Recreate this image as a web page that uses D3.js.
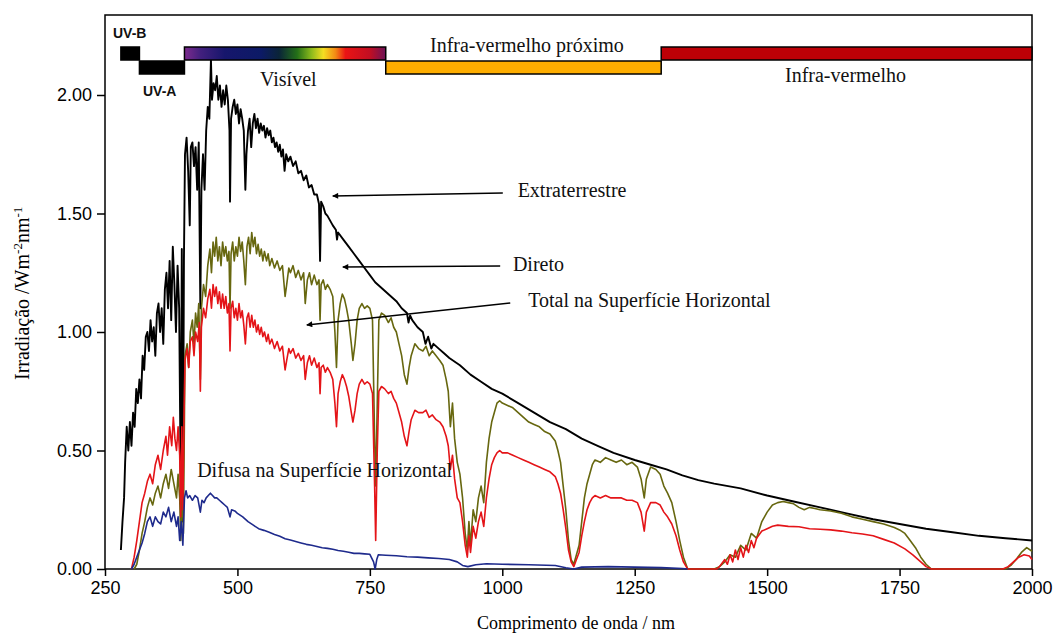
<!DOCTYPE html>
<html>
<head>
<meta charset="utf-8">
<script src="https://cdn.jsdelivr.net/npm/d3@7"></script>
<style>
	body { margin: 0; background: #fff; }
	svg { display: block; }
</style>
</head>
<body>
<div id="món"></div>
<script>
// valors llegits de la figura: [comprimento de onda nm, irradiação]
const extraterrestre = [[280,0.08],[283,0.2],[286,0.3],[288,0.45],[291,0.6],[294,0.5],[297,0.62],[300,0.52],[303,0.66],[306,0.6],[309,0.76],[312,0.7],[315,0.8],[318,0.72],[321,0.9],[324,0.84],[327,0.98],[330,1.0],[333,0.92],[336,1.05],[339,0.96],[342,1.02],[345,0.9],[348,1.08],[351,1.12],[354,1.0],[357,1.1],[360,0.95],[363,1.18],[366,1.25],[369,1.1],[372,1.3],[375,1.05],[378,1.36],[381,1.2],[384,1.0],[387,1.28],[390,1.1],[393,0.35],[395,1.35],[397,0.2],[399,1.3],[401,1.75],[404,1.82],[407,1.68],[410,1.45],[412,1.78],[415,1.8],[418,1.7],[421,1.78],[424,1.6],[427,1.8],[430,1.1],[432,1.6],[435,1.75],[438,1.6],[441,1.85],[444,1.95],[447,1.9],[450,2.15],[452,1.98],[455,2.05],[458,2.02],[461,2.08],[464,1.98],[467,2.04],[470,1.95],[473,2.02],[476,1.96],[479,2.04],[482,1.98],[485,1.85],[486,1.55],[488,1.9],[491,1.95],[494,1.98],[497,1.92],[500,1.96],[503,1.88],[506,1.94],[509,1.9],[512,1.85],[515,1.6],[517,1.75],[520,1.85],[523,1.9],[526,1.78],[529,1.88],[532,1.92],[535,1.86],[538,1.9],[541,1.84],[544,1.88],[547,1.85],[550,1.87],[553,1.82],[556,1.86],[559,1.83],[562,1.85],[565,1.8],[568,1.82],[571,1.78],[574,1.8],[577,1.76],[580,1.79],[583,1.74],[586,1.77],[589,1.68],[592,1.75],[596,1.72],[600,1.74],[605,1.7],[610,1.72],[615,1.67],[620,1.68],[625,1.64],[630,1.66],[635,1.61],[640,1.62],[645,1.58],[650,1.58],[654,1.54],[656,1.3],[658,1.55],[662,1.53],[666,1.5],[670,1.49],[675,1.47],[680,1.45],[686,1.43],[688,1.39],[690,1.42],[700,1.39],[710,1.36],[720,1.33],[730,1.3],[740,1.27],[750,1.24],[760,1.21],[770,1.19],[780,1.17],[790,1.15],[800,1.13],[810,1.1],[820,1.08],[823,1.04],[826,1.07],[830,1.05],[840,1.02],[850,1.0],[855,0.95],[860,0.98],[866,0.93],[870,0.95],[880,0.93],[890,0.91],[900,0.89],[920,0.86],[940,0.82],[960,0.79],[980,0.76],[1000,0.74],[1030,0.7],[1060,0.66],[1090,0.62],[1120,0.59],[1150,0.55],[1180,0.52],[1210,0.49],[1250,0.46],[1280,0.44],[1310,0.42],[1340,0.395],[1370,0.375],[1400,0.36],[1450,0.34],[1500,0.31],[1550,0.285],[1600,0.26],[1650,0.235],[1700,0.21],[1750,0.19],[1800,0.17],[1850,0.155],[1900,0.14],[1950,0.13],[2000,0.12]];

const direto = [[305,0],[310,0.02],[315,0.08],[320,0.15],[325,0.2],[330,0.26],[335,0.3],[340,0.27],[345,0.32],[350,0.35],[355,0.3],[360,0.36],[365,0.4],[370,0.34],[375,0.42],[380,0.36],[385,0.3],[388,0.4],[391,0.3],[393,0.12],[396,0.36],[398,0.15],[401,0.9],[405,0.95],[408,0.85],[411,1.0],[415,1.05],[418,0.95],[421,1.08],[424,1.02],[427,1.12],[430,0.8],[432,1.1],[436,1.2],[440,1.15],[444,1.28],[448,1.35],[451,1.25],[454,1.38],[457,1.32],[460,1.4],[463,1.3],[466,1.36],[469,1.28],[472,1.38],[475,1.32],[478,1.36],[481,1.3],[484,1.34],[486,1.1],[488,1.33],[491,1.38],[494,1.3],[497,1.36],[500,1.32],[503,1.4],[506,1.34],[509,1.38],[512,1.3],[515,1.2],[518,1.36],[521,1.4],[524,1.33],[527,1.42],[530,1.36],[533,1.4],[536,1.33],[539,1.37],[542,1.32],[545,1.35],[548,1.3],[551,1.34],[555,1.3],[558,1.33],[561,1.28],[565,1.31],[570,1.27],[575,1.3],[580,1.26],[585,1.28],[590,1.15],[593,1.2],[597,1.27],[600,1.25],[605,1.28],[610,1.23],[615,1.26],[620,1.22],[625,1.25],[628,1.12],[632,1.22],[636,1.25],[640,1.2],[645,1.24],[650,1.2],[654,1.22],[656,1.05],[658,1.2],[662,1.22],[666,1.18],[670,1.2],[675,1.18],[680,1.15],[684,1.0],[687,0.85],[690,1.05],[694,1.12],[698,1.16],[702,1.14],[706,1.1],[710,1.05],[715,0.95],[718,0.88],[722,0.95],[726,1.05],[730,1.1],[735,1.12],[740,1.1],[745,1.11],[750,1.1],[755,1.05],[759,0.55],[761,0.35],[764,0.7],[767,1.05],[772,1.08],[778,1.07],[785,1.04],[790,1.06],[795,1.02],[800,1.0],[805,0.95],[810,0.9],[815,0.82],[820,0.78],[824,0.85],[828,0.9],[835,0.95],[842,0.93],[850,0.92],[856,0.94],[862,0.9],[868,0.92],[875,0.9],[882,0.88],[888,0.86],[894,0.8],[898,0.75],[902,0.6],[906,0.7],[910,0.55],[915,0.45],[920,0.4],[925,0.3],[930,0.15],[934,0.08],[937,0.2],[940,0.1],[945,0.25],[950,0.2],[955,0.3],[960,0.35],[965,0.28],[970,0.45],[975,0.55],[980,0.62],[985,0.66],[990,0.7],[995,0.71],[1000,0.7],[1010,0.69],[1020,0.68],[1030,0.66],[1040,0.64],[1050,0.62],[1060,0.61],[1070,0.6],[1080,0.58],[1090,0.57],[1100,0.54],[1105,0.5],[1110,0.45],[1115,0.35],[1120,0.25],[1125,0.12],[1130,0.04],[1135,0.02],[1140,0.06],[1145,0.1],[1150,0.2],[1155,0.3],[1160,0.36],[1165,0.4],[1170,0.44],[1175,0.46],[1185,0.45],[1195,0.47],[1205,0.46],[1215,0.45],[1225,0.46],[1235,0.44],[1245,0.45],[1255,0.43],[1262,0.38],[1268,0.3],[1272,0.38],[1280,0.43],[1290,0.42],[1298,0.4],[1305,0.35],[1312,0.32],[1320,0.28],[1328,0.2],[1335,0.12],[1342,0.05],[1350,0],[1400,0],[1410,0.01],[1420,0.03],[1430,0.06],[1440,0.05],[1450,0.1],[1460,0.08],[1470,0.15],[1480,0.13],[1490,0.2],[1500,0.24],[1510,0.27],[1520,0.28],[1530,0.285],[1540,0.28],[1550,0.275],[1560,0.26],[1570,0.25],[1580,0.26],[1590,0.255],[1600,0.25],[1620,0.245],[1640,0.235],[1660,0.22],[1680,0.21],[1700,0.2],[1720,0.19],[1740,0.175],[1750,0.165],[1760,0.15],[1770,0.12],[1780,0.09],[1790,0.05],[1800,0.02],[1810,0],[1950,0],[1960,0.015],[1970,0.04],[1980,0.07],[1990,0.09],[2000,0.075]];

const total = [[300,0],[305,0.05],[310,0.12],[315,0.2],[320,0.28],[325,0.32],[330,0.37],[335,0.4],[340,0.36],[345,0.44],[350,0.48],[355,0.42],[360,0.5],[365,0.56],[368,0.48],[372,0.6],[376,0.52],[379,0.64],[382,0.55],[385,0.5],[388,0.6],[391,0.48],[393,0.22],[395,0.6],[397,0.25],[399,0.62],[401,0.88],[405,0.93],[408,0.85],[411,0.96],[415,0.98],[418,0.9],[421,1.0],[425,0.96],[428,1.04],[430,0.75],[432,1.02],[436,1.1],[440,1.06],[444,1.14],[448,1.18],[451,1.1],[454,1.2],[457,1.15],[460,1.19],[463,1.12],[466,1.17],[469,1.1],[472,1.16],[475,1.1],[478,1.15],[481,1.08],[484,1.12],[486,0.92],[488,1.1],[491,1.13],[494,1.06],[497,1.1],[500,1.05],[503,1.12],[506,1.06],[509,1.09],[512,1.03],[515,0.95],[518,1.06],[521,1.08],[524,1.02],[527,1.07],[530,1.02],[533,1.05],[536,1.0],[539,1.03],[542,0.99],[545,1.02],[548,0.98],[551,1.0],[555,0.96],[558,0.99],[561,0.95],[565,0.97],[570,0.93],[575,0.96],[580,0.92],[585,0.94],[590,0.84],[593,0.88],[597,0.93],[600,0.91],[605,0.93],[610,0.89],[615,0.91],[620,0.88],[625,0.9],[628,0.8],[632,0.87],[636,0.9],[640,0.86],[645,0.89],[650,0.85],[654,0.87],[656,0.74],[658,0.85],[662,0.86],[666,0.83],[670,0.85],[675,0.83],[680,0.8],[684,0.7],[687,0.6],[690,0.74],[694,0.79],[698,0.82],[702,0.8],[706,0.77],[710,0.73],[715,0.66],[718,0.62],[722,0.67],[726,0.74],[730,0.78],[735,0.8],[740,0.78],[745,0.79],[750,0.78],[755,0.74],[759,0.35],[761,0.12],[764,0.5],[767,0.75],[772,0.77],[778,0.76],[785,0.74],[790,0.75],[795,0.72],[800,0.7],[805,0.66],[810,0.62],[815,0.56],[820,0.52],[824,0.58],[828,0.63],[835,0.67],[842,0.66],[850,0.66],[856,0.67],[862,0.64],[868,0.65],[875,0.63],[882,0.62],[888,0.6],[894,0.56],[898,0.52],[902,0.42],[906,0.48],[910,0.38],[915,0.3],[920,0.28],[925,0.2],[930,0.1],[934,0.05],[937,0.14],[940,0.07],[945,0.18],[950,0.13],[955,0.2],[960,0.24],[965,0.18],[970,0.3],[975,0.38],[980,0.44],[985,0.47],[990,0.49],[995,0.5],[1000,0.49],[1010,0.49],[1020,0.48],[1030,0.47],[1040,0.46],[1050,0.45],[1060,0.44],[1070,0.43],[1080,0.42],[1090,0.41],[1100,0.39],[1105,0.36],[1110,0.32],[1115,0.25],[1120,0.17],[1125,0.08],[1130,0.03],[1135,0.01],[1140,0.04],[1145,0.07],[1150,0.14],[1155,0.2],[1160,0.25],[1165,0.28],[1170,0.3],[1175,0.31],[1185,0.3],[1195,0.31],[1205,0.3],[1215,0.3],[1225,0.3],[1235,0.29],[1245,0.29],[1255,0.28],[1262,0.24],[1268,0.16],[1272,0.24],[1280,0.28],[1290,0.28],[1298,0.27],[1305,0.24],[1312,0.22],[1320,0.19],[1328,0.14],[1335,0.08],[1342,0.03],[1350,0],[1405,0],[1410,0.01],[1420,0.04],[1425,0.02],[1430,0.06],[1435,0.03],[1440,0.08],[1445,0.04],[1450,0.09],[1455,0.05],[1460,0.1],[1465,0.07],[1470,0.12],[1475,0.09],[1480,0.13],[1490,0.16],[1500,0.17],[1510,0.18],[1520,0.185],[1540,0.18],[1560,0.178],[1580,0.17],[1600,0.168],[1620,0.165],[1640,0.16],[1660,0.153],[1680,0.148],[1700,0.14],[1720,0.125],[1740,0.11],[1760,0.085],[1775,0.06],[1790,0.03],[1800,0.01],[1810,0],[1945,0],[1955,0.01],[1965,0.03],[1975,0.05],[1985,0.06],[1995,0.055],[2000,0.04]];

const difusa = [[300,0],[305,0.02],[310,0.05],[315,0.08],[320,0.11],[325,0.15],[330,0.2],[335,0.22],[340,0.18],[345,0.22],[350,0.2],[355,0.19],[360,0.24],[365,0.22],[370,0.26],[375,0.2],[380,0.24],[385,0.18],[388,0.22],[391,0.12],[394,0.2],[397,0.1],[400,0.3],[403,0.33],[406,0.3],[410,0.31],[415,0.29],[420,0.31],[425,0.3],[430,0.24],[433,0.29],[437,0.28],[441,0.3],[445,0.31],[449,0.32],[453,0.31],[457,0.3],[461,0.3],[466,0.29],[471,0.28],[476,0.27],[481,0.26],[486,0.22],[489,0.25],[495,0.245],[500,0.235],[510,0.22],[520,0.2],[530,0.185],[540,0.17],[550,0.163],[560,0.155],[570,0.146],[580,0.138],[590,0.128],[600,0.122],[610,0.116],[620,0.11],[630,0.104],[640,0.1],[650,0.095],[660,0.09],[670,0.087],[680,0.083],[690,0.078],[700,0.075],[710,0.071],[720,0.066],[730,0.066],[740,0.064],[750,0.062],[757,0.03],[760,0.0],[763,0.04],[766,0.06],[780,0.058],[800,0.056],[820,0.052],[840,0.05],[860,0.047],[880,0.044],[900,0.04],[915,0.03],[925,0.015],[935,0.01],[950,0.018],[970,0.022],[1000,0.02],[1050,0.018],[1100,0.015],[1120,0.005],[1135,0],[1150,0.008],[1200,0.01],[1250,0.008],[1300,0.006],[1340,0.002],[1350,0]];

// bandes de l'espectre: [nom, inici, fi, fila, color]
const bandes = [
	['UV-B', 280, 315, 0, '#000000'],
	['UV-A', 315, 400, 1, '#000000'],
	['Visível', 400, 780, 0, 'url(#arcs)'],
	['Infra-vermelho próximo', 780, 1300, 1, '#fdad00'],
	['Infra-vermelho', 1300, 2000, 0, '#bd0006']
];

const ticksX = [250, 500, 750, 1000, 1250, 1500, 1750, 2000];
const ticksY = [0, 0.5, 1.0, 1.5, 2.0];

// etiquetes: [text, nm, valor, fletxa des de [nm, valor], fins [nm, valor]]
const etiquetes = [
	['Extraterrestre', 1029, 1.57, [1001, 1.586], [680, 1.574]],
	['Direto', 1020, 1.257, [996, 1.278], [699, 1.274]],
	['Total na Superfície Horizontal', 1049, 1.105, [1015, 1.122], [631, 1.03]],
	['Difusa na Superfície Horizontal', 424, 0.388, null, null]
];

const Amplada = 1059, Alçada = 637;
const serif = '"Liberation Serif", "Times New Roman", serif';
const sans = '"Liberation Sans", Arial, sans-serif';

const escX = d3.scaleLinear().domain([250, 2000]).range([105, 1032]);
const escY = d3.scaleLinear().domain([0, 2]).range([569, 95]);

const plànol = d3.select('#món').append('svg')
	.attr('width', Amplada)
	.attr('height', Alçada);

plànol.append('rect').attr('width', Amplada).attr('height', Alçada).attr('fill', '#fff');

const defs = plànol.append('defs');
const grad = defs.append('linearGradient').attr('id', 'arcs');
[[0, '#7d2b8e'], [0.08, '#42207e'], [0.2, '#16166c'], [0.38, '#0c1a66'], [0.47, '#0a2438'],
	[0.56, '#247018'], [0.63, '#8cba1c'], [0.69, '#f4de22'], [0.75, '#f38a14'], [0.8, '#ea1414'],
	[0.92, '#c20e22'], [1, '#6c1256']].forEach(s => {
	grad.append('stop').attr('offset', s[0]).attr('stop-color', s[1]);
});

// marc del gràfic
plànol.append('rect')
	.attr('x', escX(250)).attr('y', 15)
	.attr('width', escX(2000) - escX(250)).attr('height', escY(0) - 15)
	.attr('fill', 'none').attr('stroke', '#000').attr('stroke-width', 1.5);

// eixos
const eixX = plànol.append('g')
	.attr('transform', `translate(0,${escY(0)})`)
	.call(d3.axisBottom(escX).tickValues(ticksX).tickFormat(d3.format('d')).tickSize(7).tickPadding(5));
const eixY = plànol.append('g')
	.attr('transform', `translate(${escX(250)},0)`)
	.call(d3.axisLeft(escY).tickValues(ticksY).tickFormat(d3.format('.2f')).tickSize(8).tickPadding(5));
[eixX, eixY].forEach(e => {
	e.select('.domain').remove();
	e.selectAll('line').attr('stroke', '#000').attr('stroke-width', 1.5);
	e.selectAll('text').attr('fill', '#000').style('font-family', sans).style('font-size', '18px');
});

// corbes
const línia = d3.line().x(d => escX(d[0])).y(d => escY(d[1]));
[[extraterrestre, '#000000', 1.9], [direto, '#67670f', 1.6], [total, '#e41418', 1.6], [difusa, '#1e2a8c', 1.6]]
	.forEach(([sèrie, col, gruix]) => {
		plànol.append('path')
			.datum(sèrie)
			.attr('d', línia)
			.attr('fill', 'none')
			.attr('stroke', col)
			.attr('stroke-width', gruix)
			.attr('stroke-linejoin', 'round');
	});

// barres de bandes
const fila = [47, 61];
bandes.forEach(b => {
	plànol.append('rect')
		.attr('x', escX(b[1])).attr('y', fila[b[3]])
		.attr('width', escX(b[2]) - escX(b[1])).attr('height', 13)
		.attr('fill', b[4]).attr('stroke', '#000').attr('stroke-width', 1.5);
});

// textos de les bandes
const textBanda = [
	['UV-B', 113, 38, sans, 14, 'bold'],
	['UV-A', 143, 96, sans, 14, 'bold'],
	['Visível', 260, 86, serif, 20, 'normal'],
	['Infra-vermelho próximo', 430, 52, serif, 20, 'normal'],
	['Infra-vermelho', 785, 82, serif, 20, 'normal']
];
textBanda.forEach(t => {
	plànol.append('text')
		.attr('x', t[1]).attr('y', t[2])
		.style('font-family', t[3]).style('font-size', t[4] + 'px').style('font-weight', t[5])
		.attr('fill', '#111')
		.text(t[0]);
});

// fletxes i etiquetes
defs.append('marker')
	.attr('id', 'punta').attr('viewBox', '0 0 10 10')
	.attr('refX', 9).attr('refY', 5)
	.attr('markerWidth', 9).attr('markerHeight', 6)
	.attr('markerUnits', 'userSpaceOnUse')
	.attr('orient', 'auto')
	.append('path').attr('d', 'M0,0L10,5L0,10Z').attr('fill', '#000');

etiquetes.forEach(e => {
	if (e[3]) {
		plànol.append('line')
			.attr('x1', escX(e[3][0])).attr('y1', escY(e[3][1]))
			.attr('x2', escX(e[4][0])).attr('y2', escY(e[4][1]))
			.attr('stroke', '#000').attr('stroke-width', 1.5)
			.attr('marker-end', 'url(#punta)');
	}
	plànol.append('text')
		.attr('x', escX(e[1])).attr('y', escY(e[2]))
		.style('font-family', serif).style('font-size', '20px')
		.attr('fill', '#111')
		.text(e[0]);
});

// títols dels eixos
plànol.append('text')
	.attr('x', 576).attr('y', 629)
	.attr('text-anchor', 'middle')
	.style('font-family', serif).style('font-size', '18px')
	.text('Comprimento de onda / nm');

const títolY = plànol.append('text')
	.attr('transform', 'translate(29,380) rotate(-90)')
	.attr('text-anchor', 'start')
	.style('font-family', serif).style('font-size', '20px');
títolY.append('tspan').text('Irradiação /Wm');
títolY.append('tspan').attr('dy', -7).style('font-size', '13px').text('-2');
títolY.append('tspan').attr('dy', 7).text('nm');
títolY.append('tspan').attr('dy', -7).style('font-size', '13px').text('-1');
</script>
</body>
</html>
